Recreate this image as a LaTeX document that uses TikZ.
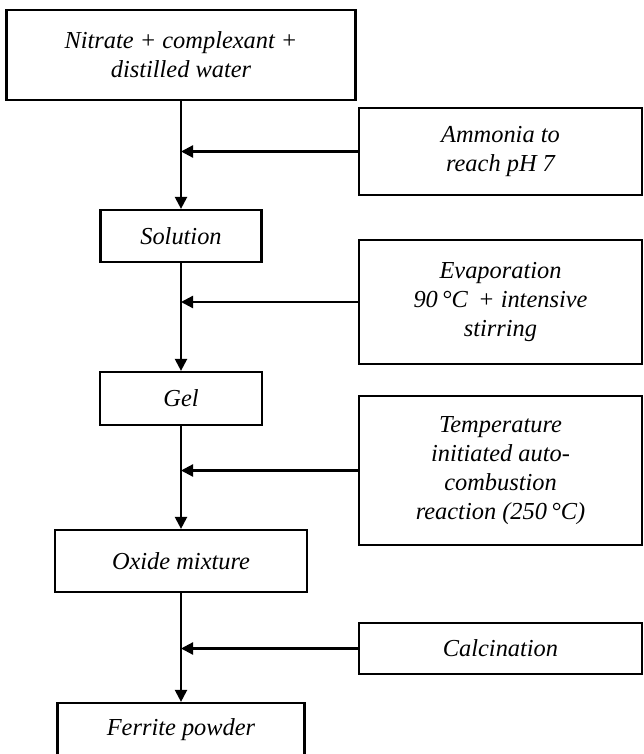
\documentclass[tikz,border=0pt]{standalone}
\usepackage{fontspec}
\setmainfont{Liberation Serif}
\usetikzlibrary{arrows.meta,positioning}
\tikzset{
    % style for the boxes
    punkt/.style={
           rectangle,
           draw=black, line width=1.1pt,
           inner sep=0pt,
           align=center,
           font=\itshape\fontsize{12.2}{14.5}\selectfont},
    % boxes on the right with the added steps
    stepbox/.style={
           punkt,
           minimum width=141.5pt},
    % arrow style
    pil/.style={
           -{Triangle[length=6pt,width=6pt]},
           line width=1.1pt}
}

\begin{document}
\begin{tikzpicture}[x=0.5pt,y=-0.5pt]
\useasboundingbox (0,0) rectangle (643,754);

% main route, all on one vertical line
\node[punkt, minimum width=174.5pt, minimum height=45pt] (nitrate) at (181,55) {Nitrate + complexant +\\distilled water};
\node[punkt, minimum width=80.5pt, minimum height=26pt] (solution) at (181,236) {Solution};
\node[punkt, minimum width=81pt, minimum height=26.5pt] (gel) at (181,398.5) {Gel};
\node[punkt, minimum width=126pt, minimum height=31pt] (oxide) at (181,561) {Oxide mixture};
\node[punkt, minimum width=123.5pt, minimum height=26.5pt] (ferrite) at (181,729.5) {Ferrite powder};

% added steps on the right
\node[stepbox, minimum height=43.5pt] (ammonia) at (500.5,151.5) {Ammonia to\\reach pH 7};
\node[stepbox, minimum height=62pt] (evap) at (500.5,302) {Evaporation\\90\,°C\, + intensive\\stirring};
\node[stepbox, minimum height=74.5pt] (temp) at (500.5,470.5) {Temperature\\initiated auto-\\combustion\\reaction (250\,°C)};
\node[stepbox, minimum height=25.5pt] (calc) at (500.5,648.5) {Calcination};

% connect the main route
\draw[pil] (nitrate) -- (solution);
\draw[pil] (solution) -- (gel);
\draw[pil] (gel) -- (oxide);
\draw[pil] (oxide) -- (ferrite);

% the steps join the route
\draw[pil] (ammonia.west) -- (ammonia.west -| nitrate.south);
\draw[pil] (evap.west) -- (evap.west -| nitrate.south);
\draw[pil] (temp.west) -- (temp.west -| nitrate.south);
\draw[pil] (calc.west) -- (calc.west -| nitrate.south);
\end{tikzpicture}
\end{document}
